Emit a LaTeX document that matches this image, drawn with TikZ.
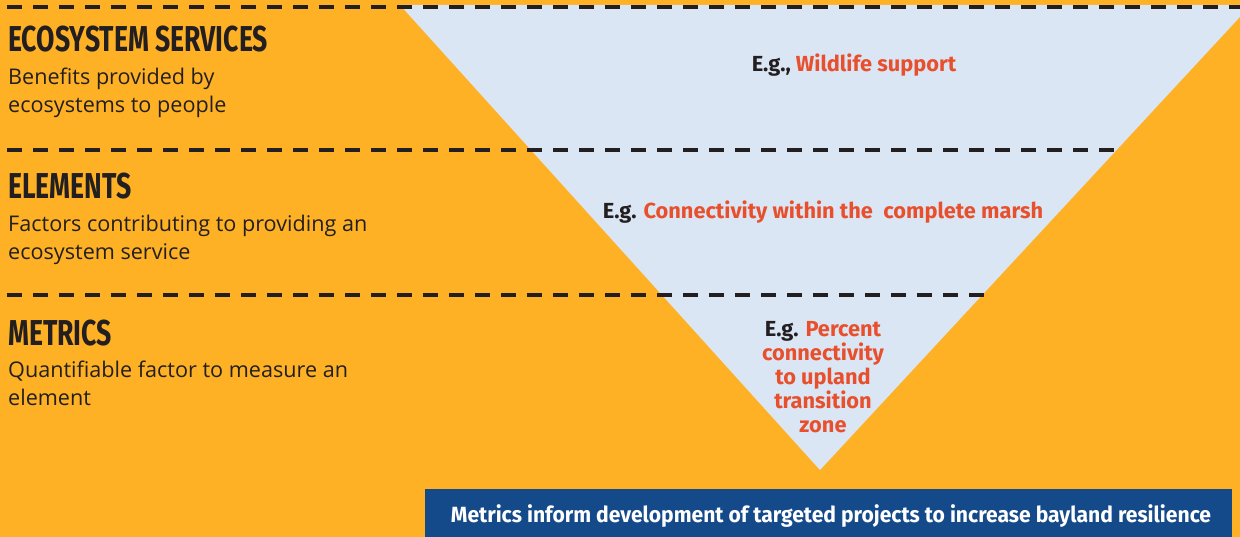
\documentclass[tikz,border=0pt]{standalone}
\usepackage{fontspec}
\setmainfont{Open Sans}
\newfontfamily\headfont[FakeStretch=0.74]{Fira Sans}
\newfontfamily\egfont{Fira Sans}
\newfontfamily\boxfont[FakeStretch=0.96]{Fira Sans}
\definecolor{bgorange}{HTML}{FEB125}
\definecolor{paleblue}{HTML}{DBE6F4}
\definecolor{egred}{HTML}{E8502D}
\definecolor{boxblue}{HTML}{154A8A}
\definecolor{inkdark}{HTML}{231F20}
\tikzset{
	tierline/.style={line width=4.5pt, color=inkdark, dash pattern=on 15pt off 11pt},
	tierhead/.style={anchor=base west, inner sep=0pt, font=\headfont\bfseries\fontsize{36}{36}\selectfont, color=inkdark},
	tiertext/.style={anchor=base west, inner sep=0pt, align=left, font=\fontsize{21.6}{28.5}\selectfont, color=inkdark},
	egtext/.style={inner sep=0pt, align=center, font=\egfont\bfseries\fontsize{21.8}{24}\selectfont, color=egred},
}
\begin{document}
\begin{tikzpicture}[x=1pt, y=-1pt]
		%%%%% START %%%%%
		\useasboundingbox (0, 0) rectangle (1240, 537);
		\fill[bgorange] (0, 0) rectangle (1240, 537);
		
		\fill[paleblue] (400, 5) -- (1251, 5) -- (820, 470) -- cycle;
		
		\draw[tierline] (7, 7) -- (1240, 7);
		\draw[tierline] (7, 150) -- (1117, 150);
		\draw[tierline] (7, 295) -- (985, 295);
		
		% the base of a two line node is its last line
		\node[tierhead] (services) at (8, 52) {ECOSYSTEM SERVICES};
		\node[tiertext] (servicesdef) at (8, 113) {Benefits provided by\\ecosystems to people};
		
		\node[tierhead] (elements) at (8, 199) {ELEMENTS};
		\node[tiertext] (elementsdef) at (8, 260) {Factors contributing to providing an\\ecosystem service};
		
		\node[tierhead] (metrics) at (8, 345) {METRICS};
		\node[tiertext] (metricsdef) at (8, 406) {Quantifiable factor to measure an\\element};
		
		\node[egtext, anchor=base] (egservice) at (854, 72) {\textcolor{inkdark}{E.g.,} Wildlife support};
		\node[egtext, anchor=base] (egelement) at (823, 219) {\textcolor{inkdark}{E.g.} Connectivity within the \ complete marsh};
		\node[egtext, anchor=base] (egmetric) at (823, 432) {\textcolor{inkdark}{E.g.} Percent\\connectivity\\to upland\\transition\\zone};
		
		\fill[boxblue] (425, 489) rectangle (1232, 537);
		\node[egtext, font=\boxfont\bfseries\fontsize{22}{24}\selectfont, color=white] (summary) at (831, 516) {Metrics inform development of targeted projects to increase bayland resilience};
		%%%%% END %%%%%
\end{tikzpicture}
\end{document}
